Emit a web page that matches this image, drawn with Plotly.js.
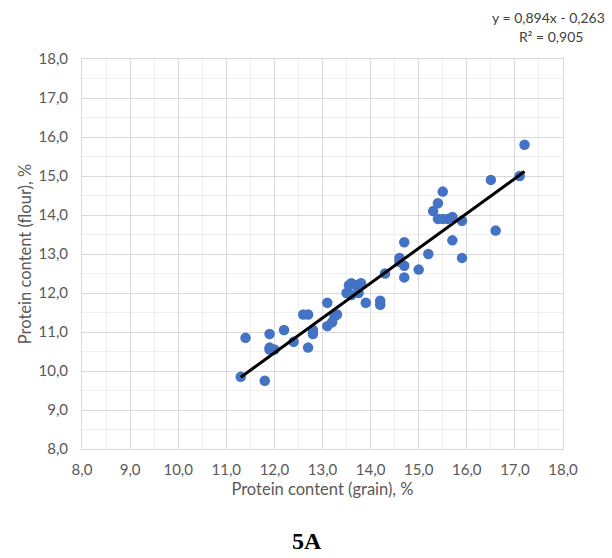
<!DOCTYPE html>
<html>
<head>
<meta charset="utf-8">
<script src="https://cdn.plot.ly/plotly-3.0.1.min.js"></script>
<style>
  html, body { margin: 0; padding: 0; background: #ffffff; }
  #chart { width: 612px; height: 558px; }
</style>
</head>
<body>
<div id="chart"></div>
<script>
// Protein content measured in grain (x) and in flour (y), %
const grainProtein = [
  11.3, 11.8, 11.4, 11.9, 11.9, 12.0, 11.9, 12.2, 12.4, 12.6,
  12.7, 12.7, 12.8, 12.8, 13.1, 13.1, 13.2, 13.3, 13.25, 13.5,
  13.6, 13.55, 13.6, 13.7, 13.8, 13.75, 13.9, 14.2, 14.2, 14.3,
  14.6, 14.7, 14.7, 14.7, 15.0, 15.2, 15.3, 15.4, 15.5, 15.4,
  15.5, 15.7, 15.9, 15.7, 15.9, 16.5, 16.6, 17.1, 17.2, 15.6,
  14.6
];
const flourProtein = [
  9.85, 9.75, 10.85, 10.95, 10.6, 10.55, 10.55, 11.05, 10.75, 11.45,
  11.45, 10.6, 10.95, 11.05, 11.75, 11.15, 11.25, 11.45, 11.4, 12.0,
  12.25, 12.2, 11.95, 12.2, 12.25, 12.0, 11.75, 11.8, 11.7, 12.5,
  12.9, 12.7, 12.4, 13.3, 12.6, 13.0, 14.1, 14.3, 14.6, 13.9,
  13.9, 13.95, 13.85, 13.35, 12.9, 14.9, 13.6, 15.0, 15.8, 13.9,
  12.8
];

// Linear trend: y = slope * x + intercept
const trendSlope = 0.894;
const trendIntercept = -0.263;
const trendR2 = 0.905;

const axisTicks = [8, 9, 10, 11, 12, 13, 14, 15, 16, 17, 18];

const xMin = Math.min(...grainProtein);
const xMax = Math.max(...grainProtein);
const trendX = [xMin, xMax];
const trendY = trendX.map(v => trendSlope * v + trendIntercept);

const fmt = v => v.toFixed(3).replace('.', ',');
const eqText = 'y = ' + fmt(trendSlope) + 'x - ' + fmt(Math.abs(trendIntercept));
const r2Text = 'R² = ' + fmt(trendR2);

const tickFont = { family: 'Lato, "Open Sans", sans-serif', size: 15, color: '#595959' };
const titleFont = { family: 'Lato, "Open Sans", sans-serif', size: 16.5, color: '#595959' };
const eqFont = { family: 'Lato, "Open Sans", sans-serif', size: 14, color: '#404040' };

const data = [
  {
    type: 'scatter', mode: 'markers',
    x: grainProtein, y: flourProtein,
    marker: { color: '#4472C4', size: 10.5 },
    hoverinfo: 'x+y', showlegend: false
  },
  {
    type: 'scatter', mode: 'lines',
    x: trendX, y: trendY,
    line: { color: '#000000', width: 3 },
    hoverinfo: 'skip', showlegend: false
  }
];

const axisCommon = {
  range: [8, 18],
  tickvals: axisTicks,
  tickformat: '.1f',
  showgrid: true,
  gridcolor: '#d9d9d9',
  gridwidth: 1,
  minor: { dtick: 0.5, showgrid: true, gridcolor: '#efefef', gridwidth: 1 },
  showline: true,
  linecolor: '#d9d9d9',
  linewidth: 1,
  mirror: true,
  zeroline: false,
  ticks: '',
  tickfont: tickFont,
  fixedrange: true
};

const layout = {
  width: 612,
  height: 558,
  margin: { l: 82, r: 49, t: 59, b: 109 },
  paper_bgcolor: '#ffffff',
  plot_bgcolor: '#ffffff',
  separators: ', ',
  xaxis: Object.assign({}, axisCommon, {
    ticklabelstandoff: 7,
    title: { text: 'Protein content (grain), %', font: titleFont, standoff: 6 }
  }),
  yaxis: Object.assign({}, axisCommon, {
    ticklabelstandoff: 10,
    title: { text: 'Protein content (flour), %', font: titleFont, standoff: 2 }
  }),
  annotations: [
    {
      xref: 'paper', yref: 'paper', x: 0.97, y: 1.106,
      xanchor: 'center', yanchor: 'middle', showarrow: false,
      text: eqText, font: eqFont
    },
    {
      xref: 'paper', yref: 'paper', x: 0.975, y: 1.057,
      xanchor: 'center', yanchor: 'middle', showarrow: false,
      text: r2Text, font: eqFont
    },
    {
      xref: 'paper', yref: 'paper', x: 0.468, y: -0.235,
      xanchor: 'center', yanchor: 'middle', showarrow: false,
      text: '<b>5A</b>',
      font: { family: '"Liberation Serif", "DejaVu Serif", serif', size: 24, color: '#000000' }
    }
  ]
};

Plotly.newPlot('chart', data, layout, { displayModeBar: false, staticPlot: true });
</script>
</body>
</html>
